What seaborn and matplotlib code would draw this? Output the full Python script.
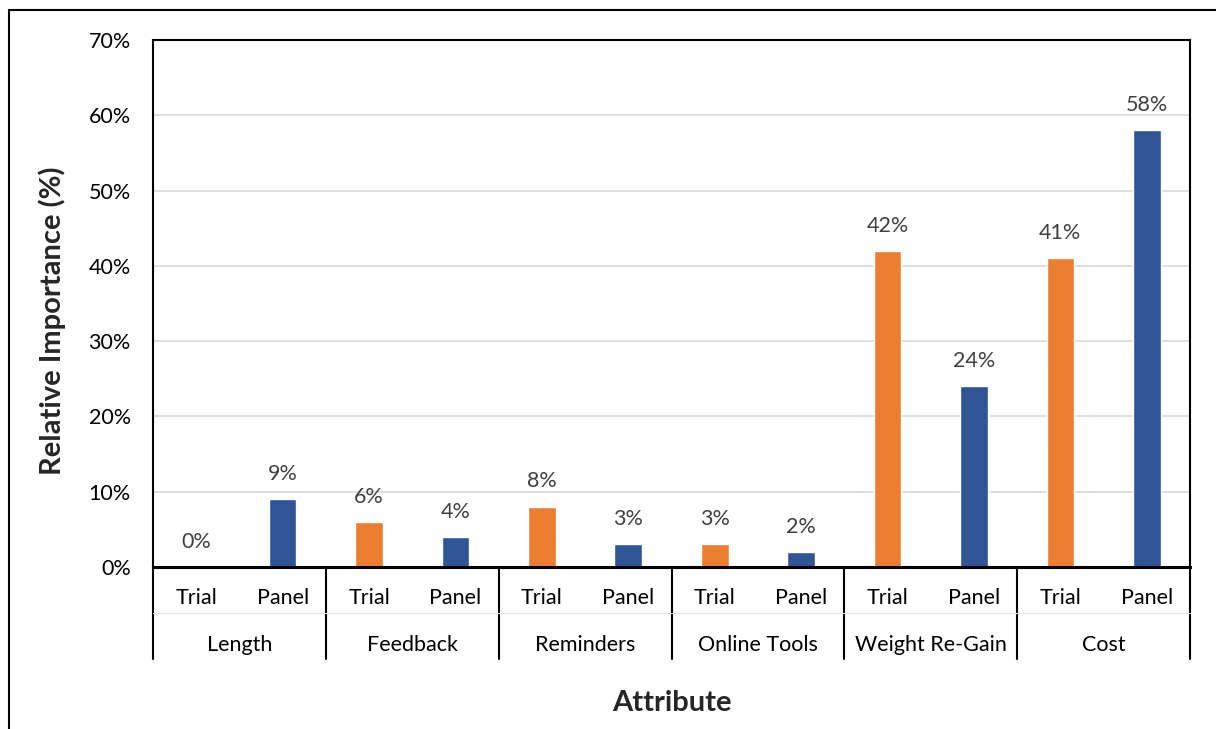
import matplotlib
matplotlib.use("Agg")
import matplotlib.pyplot as plt
from matplotlib.lines import Line2D
import pandas as pd
import seaborn as sns

attributes = ["Length", "Feedback", "Reminders", "Online Tools", "Weight Re-Gain", "Cost"]
samples = ["Trial", "Panel"]
trial_values = [0, 6, 8, 3, 42, 41]
panel_values = [9, 4, 3, 2, 24, 58]
y_ticks = [0, 10, 20, 30, 40, 50, 60, 70]

colors = {"Trial": "#ED7D31", "Panel": "#2F5597"}

rows = []
for attr, t, p in zip(attributes, trial_values, panel_values):
    rows.append({"slot": f"{attr}|Trial", "Sample": "Trial", "Attribute": attr, "Value": t})
    rows.append({"slot": f"{attr}|Panel", "Sample": "Panel", "Attribute": attr, "Value": p})
df = pd.DataFrame(rows)

sns.set_theme(style="white")
plt.rcParams["font.family"] = ["Lato", "DejaVu Sans"]

W, H = 1216, 729
fig = plt.figure(figsize=(W / 100, H / 100), dpi=100)
ax = fig.add_axes([153 / W, 1 - 567 / H, (1190 - 153) / W, (567 - 40) / H])

sns.barplot(data=df, x="slot", y="Value", hue="Sample", palette=colors,
            dodge=False, width=0.32, ax=ax, legend=False, saturation=1,
            order=list(df["slot"]))

fs = 15.5
ax.set_ylim(0, 70)
ax.set_xlim(-0.5, len(df) - 0.5)
ax.set_yticks(y_ticks)
ax.set_yticklabels([f"{v}%" for v in y_ticks], fontsize=fs, color="black")
ax.tick_params(axis="y", length=0, pad=16)
ax.set_xticks([])
ax.set_xlabel("")
ax.set_ylabel("")
ax.yaxis.grid(True, color="#D9D9D9", linewidth=1.2)
ax.set_axisbelow(True)
for side in ["left", "right", "top", "bottom"]:
    ax.spines[side].set_visible(True)
    ax.spines[side].set_color("black")
    ax.spines[side].set_linewidth(1.5)
ax.spines["bottom"].set_linewidth(2.2)

# value labels above each bar
for i, v in enumerate(df["Value"]):
    ax.annotate(f"{v}%", (i, v), xytext=(0, 11), textcoords="offset points",
                ha="center", va="bottom", fontsize=fs, color="#404040")

# two-level category axis below the plot
trans = ax.get_xaxis_transform()
px = 1 / (567 - 40)
for i, s in enumerate(df["Sample"]):
    ax.text(i, -31 * px, s, transform=trans, ha="center", va="center",
            fontsize=fs, color="black")
for g, attr in enumerate(attributes):
    ax.text(2 * g + 0.5, -78 * px, attr, transform=trans, ha="center", va="center",
            fontsize=fs, color="black")
for b in range(len(attributes) + 1):
    ax.add_line(Line2D([2 * b - 0.5, 2 * b - 0.5], [0, -92 * px], transform=trans,
                       color="black", linewidth=1.5, clip_on=False))
ax.add_line(Line2D([-0.5, len(df) - 0.5], [-46 * px, -46 * px], transform=trans,
                   color="#E6E6E6", linewidth=0.8, clip_on=False))

# axis titles
fig.text(52 / W, 1 - 321 / H, "Relative Importance (%)", rotation=90,
         ha="center", va="center", fontsize=21, fontweight="bold")
fig.text((153 + 1190) / 2 / W, 1 - 703 / H, "Attribute", ha="center", va="center",
         fontsize=21, fontweight="bold")

# chart-area frame
fig.add_artist(Line2D([8.5 / W, 8.5 / W], [0, 1 - 9.5 / H],
                      transform=fig.transFigure, color="black", linewidth=1.5))
fig.add_artist(Line2D([8.5 / W, 1], [1 - 9.5 / H, 1 - 9.5 / H],
                      transform=fig.transFigure, color="black", linewidth=1.5))

fig.savefig("out.png", dpi=100, facecolor="white")
